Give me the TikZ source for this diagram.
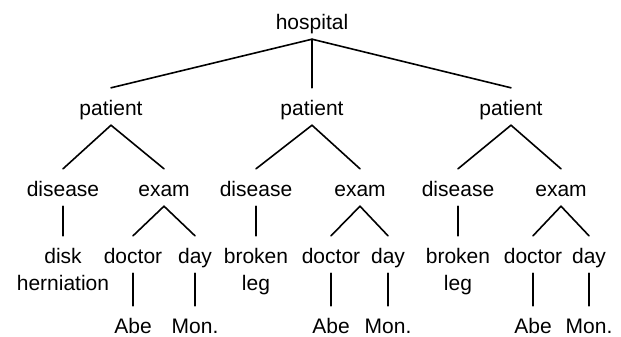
\documentclass[tikz,border=0pt]{standalone}
\usepackage{fontspec}
\setmainfont{Liberation Sans}
\begin{document}
\begin{tikzpicture}[x=1bp,y=-1bp,
  lbl/.style={font=\fontsize{21bp}{27bp}\selectfont, inner xsep=0pt, inner ysep=5bp,
              text height=22bp, text depth=5bp, anchor=base},
  bottom/.style={lbl, inner ysep=2bp, text height=25bp, text depth=0pt},
  edge/.style={line width=1.6bp, line cap=round}]
\useasboundingbox (0,0) rectangle (621,336);
% level 0
\node[lbl] (h) at (312,29) {hospital};
% level 1
\node[lbl] (p1) at (111,115) {patient};
\node[lbl] (p2) at (312,115) {patient};
\node[lbl] (p3) at (511,115) {patient};
% level 2
\node[lbl] (d1) at (63,196) {disease};
\node[lbl] (e1) at (164,196) {exam};
\node[lbl] (d2) at (256,196) {disease};
\node[lbl] (e2) at (360,196) {exam};
\node[lbl] (d3) at (458,196) {disease};
\node[lbl] (e3) at (561,196) {exam};
% level 3
\node[lbl] (l1) at (63,263) {\begin{tabular}[t]{@{}c@{}}disk\\herniation\end{tabular}};
\node[lbl] (c1) at (133,263) {doctor};
\node[lbl] (y1) at (195,263) {day};
\node[lbl] (l2) at (256,263) {\begin{tabular}[t]{@{}c@{}}broken\\leg\end{tabular}};
\node[lbl] (c2) at (331,263) {doctor};
\node[lbl] (y2) at (388,263) {day};
\node[lbl] (l3) at (458,263) {\begin{tabular}[t]{@{}c@{}}broken\\leg\end{tabular}};
\node[lbl] (c3) at (533,263) {doctor};
\node[lbl] (y3) at (589,263) {day};
% level 4
\node[bottom] (a1) at (133,333) {Abe};
\node[bottom] (m1) at (195,333) {Mon.};
\node[bottom] (a2) at (331,333) {Abe};
\node[bottom] (m2) at (388,333) {Mon.};
\node[bottom] (a3) at (533,333) {Abe};
\node[bottom] (m3) at (589,333) {Mon.};
% connectors
\draw[edge] (h.south) -- (p1.north);
\draw[edge] (h.south) -- (p2.north);
\draw[edge] (h.south) -- (p3.north);
\draw[edge] (p1.south) -- (d1.north);
\draw[edge] (p1.south) -- (e1.north);
\draw[edge] (p2.south) -- (d2.north);
\draw[edge] (p2.south) -- (e2.north);
\draw[edge] (p3.south) -- (d3.north);
\draw[edge] (p3.south) -- (e3.north);
\draw[edge] (d1.south) -- (l1.north);
\draw[edge] (e1.south) -- (c1.north);
\draw[edge] (e1.south) -- (y1.north);
\draw[edge] (d2.south) -- (l2.north);
\draw[edge] (e2.south) -- (c2.north);
\draw[edge] (e2.south) -- (y2.north);
\draw[edge] (d3.south) -- (l3.north);
\draw[edge] (e3.south) -- (c3.north);
\draw[edge] (e3.south) -- (y3.north);
\draw[edge] (c1.south) -- (a1.north);
\draw[edge] (y1.south) -- (m1.north);
\draw[edge] (c2.south) -- (a2.north);
\draw[edge] (y2.south) -- (m2.north);
\draw[edge] (c3.south) -- (a3.north);
\draw[edge] (y3.south) -- (m3.north);
\end{tikzpicture}
\end{document}
